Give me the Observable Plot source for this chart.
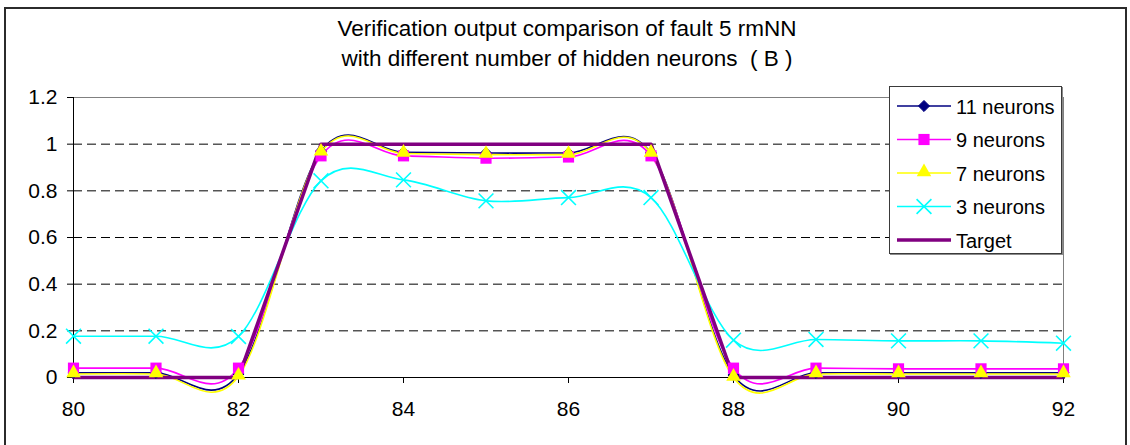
<!DOCTYPE html>
<html>
<head>
<meta charset="utf-8">
<script src="https://cdn.jsdelivr.net/npm/d3@7"></script>
<script src="https://cdn.jsdelivr.net/npm/@observablehq/plot@0.6"></script>
<style>
  html, body { margin: 0; padding: 0; background: #fff; }
  #wrap { position: relative; width: 1130px; height: 445px; overflow: hidden; font-family: "Liberation Sans", Arial, sans-serif; }
  #frame { position: absolute; left: 4px; top: 7px; width: 1123px; height: 460px; box-sizing: border-box; border: 2px solid #2b2b2b; pointer-events: none; }
  #title { position: absolute; left: 0; top: 14px; width: 1134px; text-align: center; font-size: 22.5px; line-height: 30px; color: #000; white-space: pre; }
  #chart { position: absolute; left: 0; top: 0; }
  #legend { position: absolute; left: 889px; top: 86px; width: 173px; height: 168px; box-sizing: border-box; border: 1px solid #3a3a3a; box-shadow: 1px 1px 0 #8a8a8a; background: #fff; }
</style>
</head>
<body>
<div id="wrap">
  <div id="chart"></div>
  <div id="frame"></div>
  <div id="title">Verification output comparison of fault 5 rmNN
with different number of hidden neurons  ( B )</div>
  <div id="legend"></div>
</div>
<script>
// ---- data ----
const xValues = [80, 81, 82, 83, 84, 85, 86, 87, 88, 89, 90, 91, 92];
const neurons11 = [0.02, 0.02, 0.015, 0.97, 0.965, 0.962, 0.962, 0.962, 0.01, 0.02, 0.02, 0.02, 0.02];
const neurons9  = [0.04, 0.04, 0.04, 0.95, 0.95, 0.94, 0.945, 0.95, 0.04, 0.04, 0.037, 0.037, 0.037];
const neurons7  = [0.015, 0.015, 0.005, 0.965, 0.96, 0.955, 0.955, 0.96, 0.0, 0.015, 0.015, 0.015, 0.015];
const neurons3  = [0.177, 0.177, 0.176, 0.843, 0.847, 0.757, 0.771, 0.771, 0.16, 0.163, 0.157, 0.157, 0.147];
const target    = [0, 0, 0, 1, 1, 1, 1, 1, 0, 0, 0, 0, 0];

const seriesNames = ["11 neurons", "9 neurons", "7 neurons", "3 neurons", "Target"];
const seriesColors = ["#000080", "#FF00FF", "#FFFF00", "#00FFFF", "#800080"];

const yTicks = [0, 0.2, 0.4, 0.6, 0.8, 1, 1.2];
const yTickLabels = ["0", "0.2", "0.4", "0.6", "0.8", "1", "1.2"];
const xTicks = [80, 82, 84, 86, 88, 90, 92];
const xTickLabels = ["80", "82", "84", "86", "88", "90", "92"];
const gridValues = [0.2, 0.4, 0.6, 0.8, 1];

const toRows = (vals) => xValues.map((x, i) => ({x, y: vals[i]}));
const d11 = toRows(neurons11), d9 = toRows(neurons9), d7 = toRows(neurons7), d3n = toRows(neurons3), dT = toRows(target);

const chart = Plot.plot({
  width: 1130,
  height: 445,
  marginLeft: 73,
  marginRight: 67,
  marginTop: 97,
  marginBottom: 68,
  x: {domain: [80, 92]},
  y: {domain: [0, 1.2]},
  style: {fontFamily: "'Liberation Sans', Arial, sans-serif", fontSize: "21px", background: "transparent", color: "#000", overflow: "visible"},
  marks: [
    Plot.ruleY(gridValues, {stroke: "#000", strokeWidth: 1, strokeDasharray: "9,5"}),
    Plot.ruleY([1.2], {stroke: "#808080", strokeWidth: 1}),
    Plot.ruleX([92], {stroke: "#808080", strokeWidth: 1}),
    Plot.ruleX([80], {stroke: "#000", strokeWidth: 1}),
    Plot.ruleY([0], {stroke: "#000", strokeWidth: 1}),
    Plot.axisY({ticks: yTicks, tickFormat: d => yTickLabels[yTicks.indexOf(d)], tickSize: 6, tickPadding: 10, label: null, stroke: "#000", fill: "#000"}),
    Plot.axisX({ticks: xTicks, tickFormat: d => xTickLabels[xTicks.indexOf(d)], tickSize: 6, tickPadding: 18, label: null, stroke: "#000", fill: "#000"}),
    Plot.line(d11, {x: "x", y: "y", stroke: seriesColors[0], strokeWidth: 1.6, curve: "cardinal"}),
    Plot.line(d9, {x: "x", y: "y", stroke: seriesColors[1], strokeWidth: 1.6, curve: "cardinal"}),
    Plot.line(d7, {x: "x", y: "y", stroke: seriesColors[2], strokeWidth: 1.6, curve: "cardinal"}),
    Plot.line(d3n, {x: "x", y: "y", stroke: seriesColors[3], strokeWidth: 1.6, curve: "cardinal"}),
    Plot.line(dT, {x: "x", y: "y", stroke: seriesColors[4], strokeWidth: 3.5}),
    Plot.dot(d11, {x: "x", y: "y", symbol: "diamond2", r: 5, fill: seriesColors[0], stroke: seriesColors[0], strokeWidth: 1}),
    Plot.dot(d9, {x: "x", y: "y", symbol: "square", r: 6.3, fill: seriesColors[1], stroke: "none"}),
    Plot.dot(d7, {x: "x", y: "y", symbol: "triangle", r: 5.4, fill: seriesColors[2], stroke: "none", dy: -1}),
    Plot.dot(d3n, {x: "x", y: "y", symbol: "times", r: 6.8, fill: "none", stroke: seriesColors[3], strokeWidth: 1.6})
  ]
});
document.getElementById("chart").appendChild(chart);

// ---- legend ----
const legendSymbols = ["diamond2", "square", "triangle", "times", null];
const legendR = [5, 6.3, 5.4, 6.8, 0];
const symbolMap = {diamond2: d3.symbolDiamond2, square: d3.symbolSquare, triangle: d3.symbolTriangle, times: d3.symbolTimes};
const leg = d3.select("#legend").append("svg").attr("width", 171).attr("height", 166)
  .style("font-family", "'Liberation Sans', Arial, sans-serif").style("font-size", "20px");
seriesNames.forEach((name, i) => {
  const cy = 19 + i * 33.5;
  const g = leg.append("g");
  g.append("line").attr("x1", 7).attr("x2", 61).attr("y1", cy).attr("y2", cy)
    .attr("stroke", seriesColors[i]).attr("stroke-width", i === 4 ? 3.5 : 1.6);
  if (legendSymbols[i]) {
    const s = legendSymbols[i];
    const p = d3.symbol(symbolMap[s], Math.PI * legendR[i] * legendR[i])();
    const path = g.append("path").attr("d", p).attr("transform", `translate(34,${cy - (s === "triangle" ? 1 : 0)})`);
    if (s === "times") path.attr("fill", "none").attr("stroke", seriesColors[i]).attr("stroke-width", 1.6);
    else path.attr("fill", seriesColors[i]).attr("stroke", s === "diamond2" ? seriesColors[i] : "none");
  }
  g.append("text").attr("x", 66).attr("y", cy + 4).attr("dominant-baseline", "alphabetic").attr("fill", "#000")
    .attr("dy", "0.18em").text(name);
});
</script>
</body>
</html>
